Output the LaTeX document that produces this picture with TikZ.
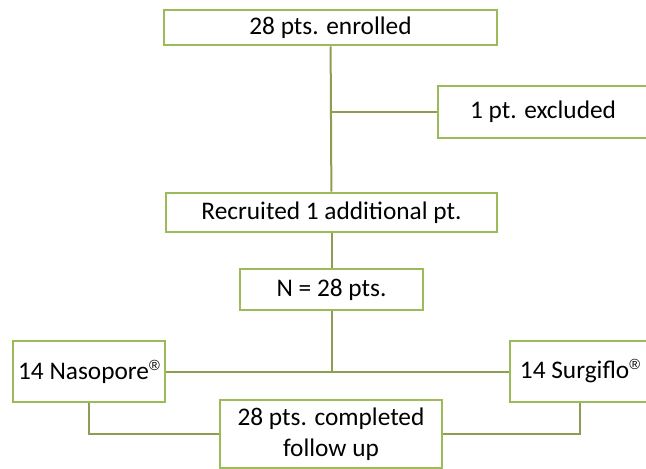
\documentclass[tikz,border=0pt]{standalone}
\usepackage{fontspec}
\setmainfont{Carlito}
\newfontfamily\regfont{Liberation Sans}
\usepackage{tikz}
\usetikzlibrary{positioning}
\definecolor{olivebox}{RGB}{155,187,89}
\definecolor{oliveline}{RGB}{140,158,80}
\newcommand{\regmark}{\raisebox{0.75ex}{\regfont\fontsize{11}{11}\selectfont ®}}
\tikzset{
  flowbox/.style={rectangle, draw=olivebox, line width=2.2pt, fill=white, inner sep=2pt,
    font=\fontsize{19}{23}\selectfont, align=center},
  flowline/.style={draw=oliveline, line width=1.5pt}
}

\begin{document}
\begin{tikzpicture}[x=0.75pt, y=-0.75pt]
    \useasboundingbox (0,0) rectangle (646,468);
    \node (enrolled)   at (330.5,27.5) [flowbox, minimum width=333pt*0.75, minimum height=35pt*0.75] {28 pts. enrolled};
    \node (excluded)   at (543,112)    [flowbox, minimum width=210pt*0.75, minimum height=52pt*0.75] {1 pt. excluded};
    \node (recruited)  at (331.5,212.5) [flowbox, minimum width=331pt*0.75, minimum height=39pt*0.75] {Recruited 1 additional pt.};
    \node (total)      at (331.5,289.5) [flowbox, minimum width=183pt*0.75, minimum height=41pt*0.75] {N = 28 pts.};
    \node (nasopore)   at (89,371.5)   [flowbox, minimum width=152pt*0.75, minimum height=61pt*0.75, inner sep=0pt] {14 Nasopore\regmark};
    \node (surgiflo)   at (580,371.5)  [flowbox, minimum width=140pt*0.75, minimum height=61pt*0.75, inner sep=0pt] {14 Surgiflo\regmark};
    \node (completed)  at (331,434)    [flowbox, minimum width=222pt*0.75, minimum height=68pt*0.75] {28 pts. completed\\follow up};
    \draw[flowline] (enrolled) -- (recruited);
    \draw[flowline] (enrolled.south |- excluded.west) -- (excluded.west);
    \draw[flowline] (recruited) -- (total);
    \draw[flowline] (total.south) -- (total.south |- nasopore.east);
    \draw[flowline] (nasopore.east) -- (surgiflo.west);
    \draw[flowline] (nasopore.south) |- (completed.west);
    \draw[flowline] (surgiflo.south) |- (completed.east);
\end{tikzpicture}
\end{document}
